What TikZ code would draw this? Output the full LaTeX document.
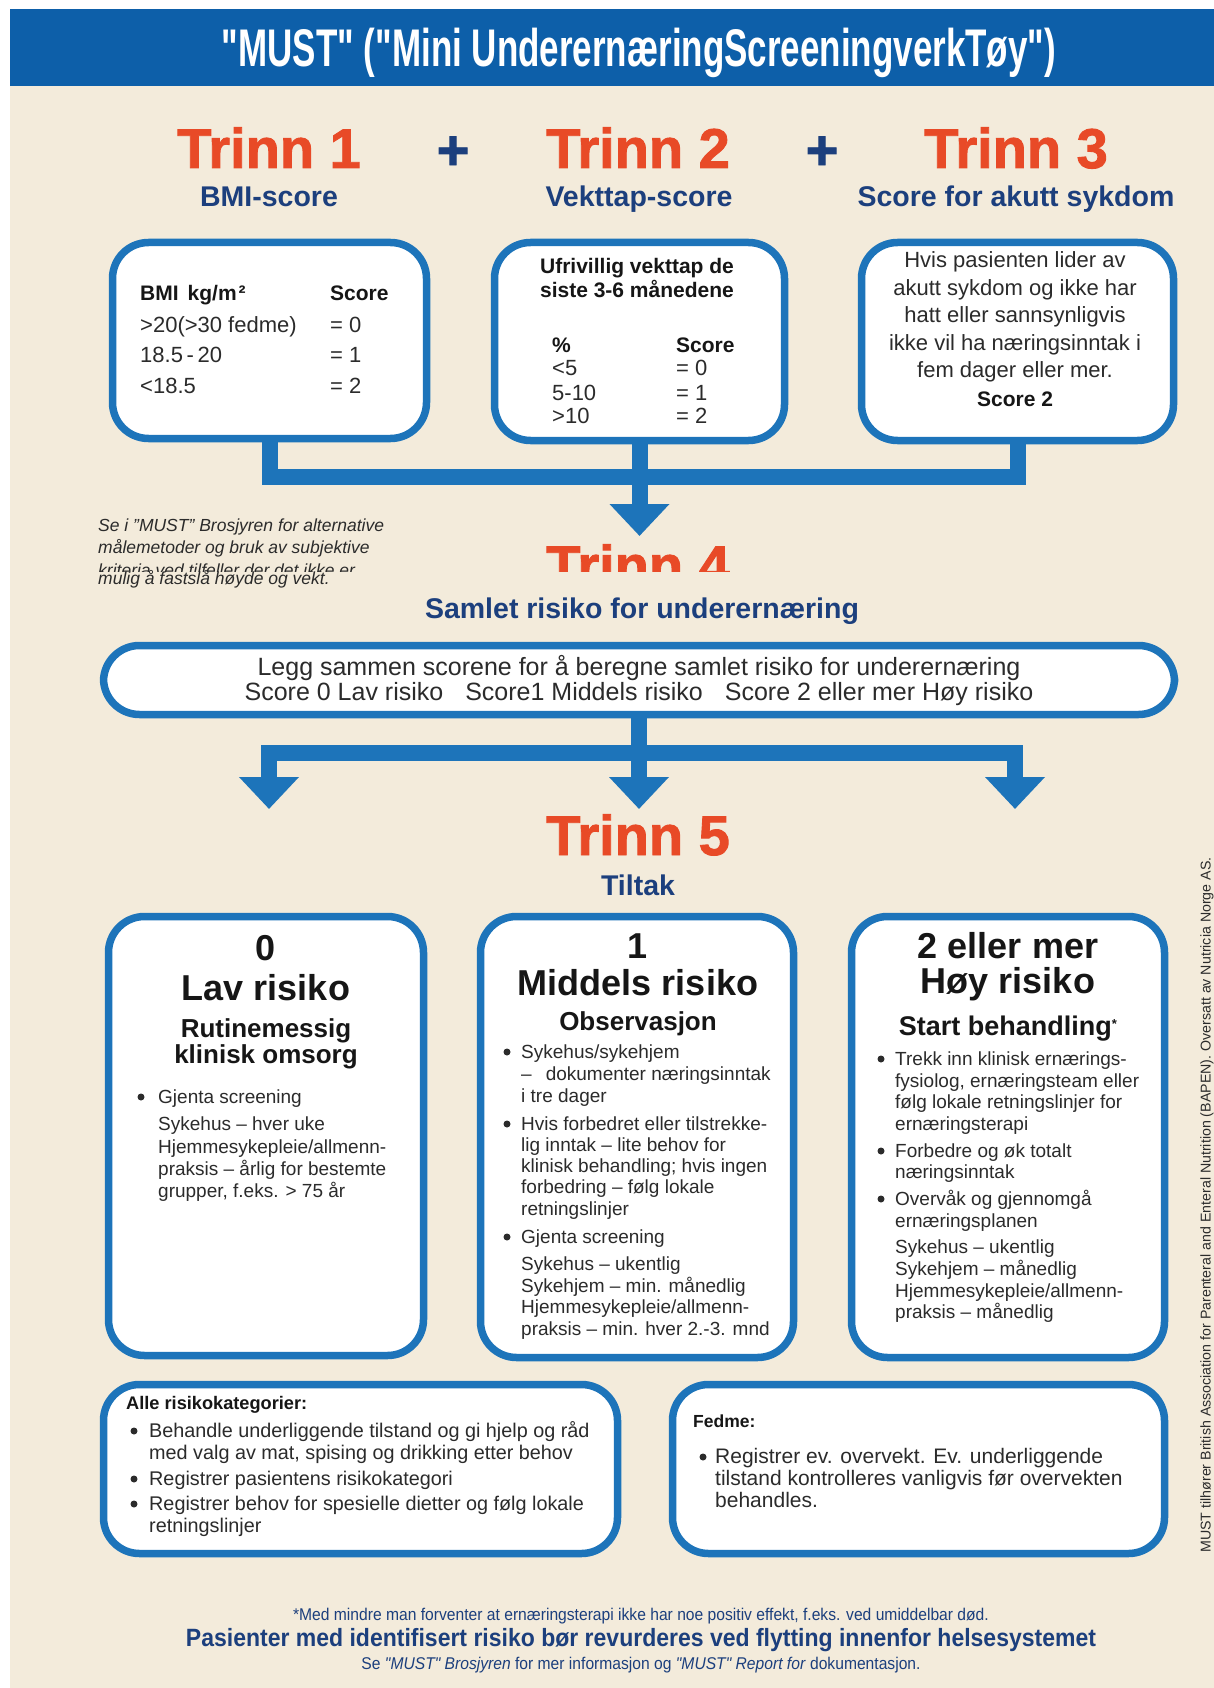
\documentclass[tikz,border=0pt]{standalone}
\usepackage{fontspec}
\setmainfont{Liberation Sans}
\newfontfamily\titlefont[FakeStretch=0.66]{Liberation Sans}
\newfontfamily\narrowfont[FakeStretch=0.92]{Liberation Sans}
\newfontfamily\heavyfont[FakeBold=1.6]{Liberation Sans}
\usetikzlibrary{arrows.meta,positioning}

\definecolor{mustblue}{HTML}{1D74BA}
\definecolor{barblue}{HTML}{0D5FA9}
\definecolor{mustbeige}{HTML}{F3EBDB}
\definecolor{mustorange}{HTML}{E84A27}
\definecolor{mustnavy}{HTML}{1C3F7D}
\definecolor{inkgrey}{HTML}{2B2B2B}
\definecolor{inkblack}{HTML}{161616}

\newcommand{\fsz}[1]{\fontsize{#1}{#1}\selectfont}

\tikzset{
  panel/.style={draw=mustblue, line width=7.5pt, fill=white, rounded corners=36pt, inner sep=0pt},
  conn/.style={draw=mustblue, line width=16pt, line join=miter},
  tip/.style={-{Triangle[width=58pt 0 0, length=32pt 0 0]}},
  trinn/.style={anchor=base, inner sep=0pt, text=mustorange, font=\heavyfont\bfseries\fsz{56}},
  subhead/.style={anchor=base, inner sep=0pt, text=mustnavy, font=\bfseries\fsz{28.5}},
  txt/.style={anchor=base west, inner sep=0pt, text=inkgrey, font=\fsz{19}},
  ctr/.style={anchor=base, inner sep=0pt, text=inkgrey},
  big/.style={anchor=base, inner sep=0pt, text=inkblack, font=\bfseries\fsz{36}},
  mid/.style={anchor=base, inner sep=0pt, text=inkblack, font=\bfseries\fsz{26}},
  note/.style={anchor=base west, inner sep=0pt, text=inkgrey, font=\itshape\fsz{17.5}},
  dot/.style={circle, fill=inkgrey, inner sep=0pt, minimum size=7pt},
}

\begin{document}
\begin{tikzpicture}[x=1pt,y=-1pt]
\useasboundingbox (0,0) rectangle (1214,1688);
\fill[white] (0,0) rectangle (1214,1688);
\fill[mustbeige] (10,86) rectangle (1214,1688);
\fill[barblue] (10,9) rectangle (1214,86);

\node[anchor=base, inner sep=0pt, text=white, font=\titlefont\bfseries\fsz{53}] (title) at (639,67) {"MUST" ("Mini UnderernæringScreeningverkTøy")};

% steps 1-3
\node[trinn] (t1) at (269,168) {Trinn 1};
\node[trinn] (t2) at (638,168) {Trinn 2};
\node[trinn] (t3) at (1016,168) {Trinn 3};
\node[inner sep=0pt, text=mustnavy, font=\heavyfont\bfseries\fsz{56}] (plus1) at (453,153) {+};
\node[inner sep=0pt, text=mustnavy, font=\heavyfont\bfseries\fsz{56}] (plus2) at (822,153) {+};
\node[subhead] (s1) at (269,207) {BMI-score};
\node[subhead] (s2) at (639,207) {Vekttap-score};
\node[subhead] (s3) at (1016,207) {Score for akutt sykdom};

\node[panel, minimum width=314pt, minimum height=196pt] (bmi) at (269.5,340.5) {};
\node[panel, minimum width=290pt, minimum height=198pt] (loss) at (639.5,341.5) {};
\node[panel, minimum width=312pt, minimum height=198pt] (acute) at (1017.5,341.5) {};

% BMI
\node[txt, text=inkblack, font=\bfseries\fsz{21}] (bmih) at (140,300) {BMI\hspace{9pt}kg/m\hspace{2pt}²};
\node[txt, text=inkblack, font=\bfseries\fsz{21}] (bmis) at (330,300) {Score};
\foreach \yy/\aa/\bb [count=\i] in {332/{>20(>30 fedme)}/{= 0}, 362/{18.5\thinspace-\thinspace20}/{= 1}, 393/{<18.5}/{= 2}}{
  \node[txt, font=\fsz{22}] (bmia\i) at (140,\yy) {\aa};
  \node[txt, font=\fsz{22}] (bmib\i) at (330,\yy) {\bb};
}

% weight loss
\node[ctr, text=inkblack, font=\bfseries\fsz{21}] (lossh1) at (637,273) {Ufrivillig vekttap de};
\node[ctr, text=inkblack, font=\bfseries\fsz{21}] (lossh2) at (637,298) {siste 3-6 månedene};
\node[txt, text=inkblack, font=\bfseries\fsz{21}] (lossp) at (552,352) {\%};
\node[txt, text=inkblack, font=\bfseries\fsz{21}] (losss) at (676,352) {Score};
\foreach \yy/\aa/\bb [count=\i] in {375/{<5}/{= 0}, 400/{5-10}/{= 1}, 423/{>10}/{= 2}}{
  \node[txt, font=\fsz{22}] (lossa\i) at (552,\yy) {\aa};
  \node[txt, font=\fsz{22}] (lossb\i) at (676,\yy) {\bb};
}

% acute disease
\foreach \yy/\tx [count=\i] in {267/{Hvis pasienten lider av}, 295/{akutt sykdom og ikke har}, 322/{hatt eller sannsynligvis}, 350/{ikke vil ha næringsinntak i}, 377/{fem dager eller mer.}}
  \node[ctr, font=\fsz{22}] (acu\i) at (1015,\yy) {\tx};
\node[ctr, text=inkblack, font=\bfseries\fsz{21}] (acus) at (1015,406) {Score 2};

% join to step 4
\coordinate (j1) at (639.5,477);
\coordinate (a4) at (639.5,536);
\draw[conn] (bmi.south) |- (j1) -| (acute.south);
\draw[conn] (loss.south) -- (j1);
\draw[conn, tip] (j1) -- (a4);

\node[note] (n1) at (98,531) {Se i "MUST" Brosjyren for alternative};
\node[note] (n2) at (98,553) {målemetoder og bruk av subjektive};
\begin{scope}
\clip (90,555) rectangle (420,571);
\node[note] (n3) at (98,576) {kriteria ved tilfeller der det ikke er};
\end{scope}
\node[note] (n4) at (98,584) {mulig å fastslå høyde og vekt.};

% step 4
\begin{scope}
\clip (450,520) rectangle (850,571);
\node[trinn] (t4) at (638,585) {Trinn 4};
\end{scope}
\node[subhead] (s4) at (642,618) {Samlet risiko for underernæring};
\node[panel, minimum width=1071pt, minimum height=69pt] (total) at (639,680) {};
\node[ctr, font=\fsz{25}] (tot1) at (639,675) {Legg sammen scorene for å beregne samlet risiko for underernæring};
\node[ctr, font=\fsz{25}] (tot2) at (639,700) {Score 0 Lav risiko\hspace{22pt}Score1 Middels risiko\hspace{22pt}Score 2 eller mer Høy risiko};

\coordinate (j2) at (639,753);
\coordinate (a5l) at (269,809);
\coordinate (a5m) at (639,809);
\coordinate (a5r) at (1015,809);
\draw[conn] (total.south) -- (j2);
\draw[conn, tip] (j2) -| (a5l);
\draw[conn, tip] (j2) -| (a5r);
\draw[conn, tip] (j2) -- (a5m);

% step 5
\node[trinn] (t5) at (638,855) {Trinn 5};
\node[subhead] (s5) at (638,895) {Tiltak};

\node[panel, minimum width=315pt, minimum height=439pt] (low) at (266,1136) {};
\node[panel, minimum width=313pt, minimum height=441pt] (medium) at (637,1137) {};
\node[panel, minimum width=313pt, minimum height=441pt] (high) at (1008,1137) {};

% low risk
\node[big] (lowa) at (266,960) {0};
\node[big] (lowb) at (266,1000) {Lav risiko};
\node[mid] (lowc) at (266,1037) {Rutinemessig};
\node[mid] (lowd) at (266,1063) {klinisk omsorg};
\node[dot] (lowdot1) at (141,1097) {};
\foreach \yy/\tx [count=\i] in {1103/{Gjenta screening}, 1130/{Sykehus – hver uke}, 1153/{Hjemmesykepleie/allmenn-}, 1175/{praksis – årlig for bestemte}, 1197/{grupper, f.eks. > 75 år}}
  \node[txt] (lowt\i) at (158,\yy) {\tx};

% medium risk
\node[big] (meda) at (638,958) {1};
\node[big] (medb) at (638,995) {Middels risiko};
\node[mid] (medc) at (638,1030) {Observasjon};
\foreach \yy [count=\i] in {1058,1130,1243}
  \node[dot] (meddot\i) at (507,\yy-6) {};
\foreach \yy/\tx [count=\i] in {1058/{Sykehus/sykehjem}, 1080/{–\hspace{14pt}dokumenter næringsinntak}, 1102/{i tre dager}, 1130/{Hvis forbedret eller tilstrekke-}, 1151/{lig inntak – lite behov for}, 1172/{klinisk behandling; hvis ingen}, 1193/{forbedring – følg lokale}, 1215/{retningslinjer}, 1243/{Gjenta screening}, 1270/{Sykehus – ukentlig}, 1292/{Sykehjem – min. månedlig}, 1313/{Hjemmesykepleie/allmenn-}, 1335/{praksis – min. hver 2.-3. mnd}}
  \node[txt] (medt\i) at (521,\yy) {\tx};

% high risk
\node[big] (higha) at (1008,958) {2 eller mer};
\node[big] (highb) at (1008,993) {Høy risiko};
\node[mid, font=\bfseries\fsz{27}] (highc) at (1008,1035) {Start behandling\raisebox{7pt}{\fsz{13}*}};
\foreach \yy [count=\i] in {1065,1157,1205}
  \node[dot] (highdot\i) at (881,\yy-6) {};
\foreach \yy/\tx [count=\i] in {1065/{Trekk inn klinisk ernærings-}, 1087/{fysiolog, ernæringsteam eller}, 1108/{følg lokale retningslinjer for}, 1130/{ernæringsterapi}, 1157/{Forbedre og øk totalt}, 1178/{næringsinntak}, 1205/{Overvåk og gjennomgå}, 1227/{ernæringsplanen}, 1253/{Sykehus – ukentlig}, 1275/{Sykehjem – månedlig}, 1297/{Hjemmesykepleie/allmenn-}, 1318/{praksis – månedlig}}
  \node[txt] (hight\i) at (895,\yy) {\tx};

% all categories / obesity
\node[panel, minimum width=514pt, minimum height=169pt] (allcat) at (360.5,1469) {};
\node[panel, minimum width=492pt, minimum height=169pt] (obese) at (918.5,1469) {};
\node[txt, text=inkblack, font=\bfseries\fsz{18.2}] (allh) at (126,1409) {Alle risikokategorier:};
\foreach \yy [count=\i] in {1437,1485,1510}
  \node[dot] (alldot\i) at (134,\yy-6) {};
\foreach \yy/\tx [count=\i] in {1437/{Behandle underliggende tilstand og gi hjelp og råd}, 1459/{med valg av mat, spising og drikking etter behov}, 1485/{Registrer pasientens risikokategori}, 1510/{Registrer behov for spesielle dietter og følg lokale}, 1532/{retningslinjer}}
  \node[txt, font=\fsz{19.8}] (allt\i) at (149,\yy) {\tx};
\node[txt, text=inkblack, font=\bfseries\fsz{17.5}] (obeh) at (693,1427) {Fedme:};
\node[dot] (obedot1) at (703,1457) {};
\foreach \yy/\tx [count=\i] in {1463/{Registrer ev. overvekt. Ev. underliggende}, 1485/{tilstand kontrolleres vanligvis før overvekten}, 1507/{behandles.}}
  \node[txt, font=\fsz{21}] (obet\i) at (715,\yy) {\tx};

% footer
\node[ctr, text=mustnavy, font=\narrowfont\fsz{17}] (foot1) at (641,1620) {*Med mindre man forventer at ernæringsterapi ikke har noe positiv effekt, f.eks. ved umiddelbar død.};
\node[ctr, text=mustnavy, font=\narrowfont\bfseries\fsz{25}] (foot2) at (641,1646) {Pasienter med identifisert risiko bør revurderes ved flytting innenfor helsesystemet};
\node[ctr, text=mustnavy, font=\narrowfont\fsz{17}] (foot3) at (641,1669) {Se \textit{"MUST" Brosjyren} for mer informasjon og \textit{"MUST" Report for} dokumentasjon.};

\node[rotate=90, inner sep=0pt, text=inkgrey, font=\fsz{14.2}] (credit) at (1207,1205) {MUST tilhører British Association for Parenteral and Enteral Nutrition (BAPEN). Oversatt av Nutricia Norge AS.};
\end{tikzpicture}
\end{document}
